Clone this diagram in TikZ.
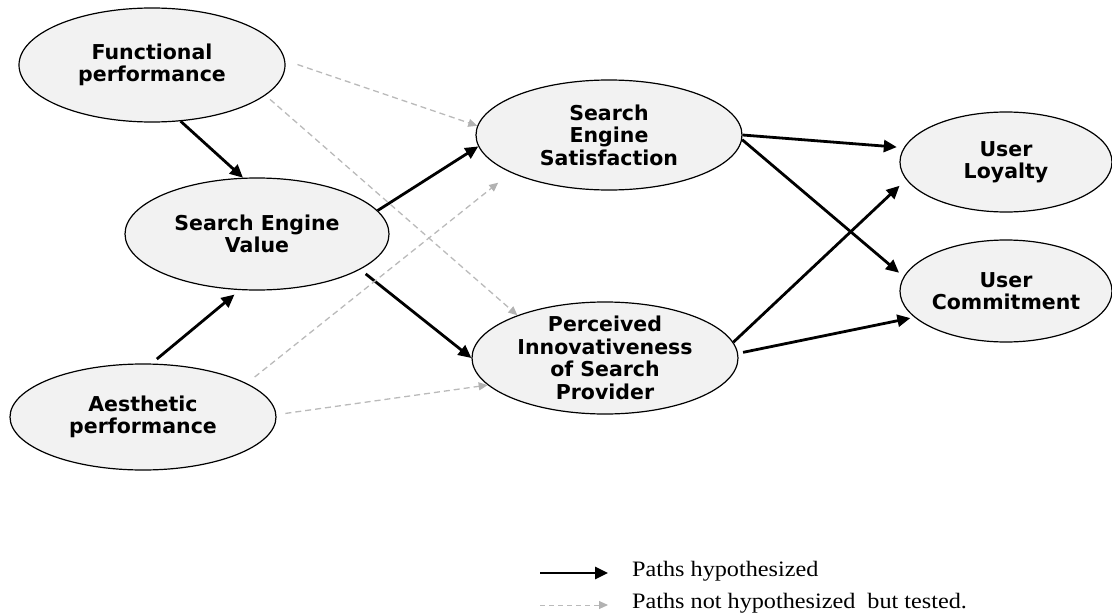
\documentclass[tikz,border=0pt]{standalone}
\usepackage{fontspec}
\usetikzlibrary{arrows.meta,shapes.geometric}
\newfontfamily\nodefont{DejaVu Sans Bold}
\newfontfamily\legfont[FakeStretch=1.1]{Liberation Serif}
\tikzset{
  ell/.style={ellipse, draw=black, line width=1.2pt, fill=black!5, inner sep=0pt},
  ntxt/.style={align=center, font=\nodefont\fontsize{20.5pt}{22.5pt}\selectfont},
  blk/.style={line width=2.8pt, draw=black, -{Triangle[length=13pt,width=12pt]}},
  gry/.style={line width=1.3pt, draw=black!27, dash pattern=on 6pt off 4pt, -{Triangle[length=9pt,width=8pt,color=black!30]}},
  legtxt/.style={anchor=west, inner sep=0pt, font=\legfont\fontsize{22pt}{24pt}\selectfont}
}
\begin{document}
\begin{tikzpicture}[x=1pt,y=-1pt]
\useasboundingbox (0,0) rectangle (1112,613);
\node[ell, minimum width=266pt, minimum height=114pt,
  label={[ntxt]center:Functional\\performance}] (fp) at (152,65) {};
\node[ell, minimum width=264pt, minimum height=112pt,
  label={[ntxt]center:Search Engine\\Value}] (sev) at (257,234) {};
\node[ell, minimum width=266pt, minimum height=106pt,
  label={[ntxt]center:Aesthetic\\performance}] (ap) at (143,417) {};
\node[ell, minimum width=266pt, minimum height=110pt,
  label={[ntxt]center:Search\\Engine\\Satisfaction}] (ses) at (609,135) {};
\node[ell, minimum width=266pt, minimum height=112pt,
  label={[ntxt]center:Perceived\\Innovativeness\\of Search\\Provider}] (pi) at (605,358) {};
\node[ell, minimum width=212pt, minimum height=100pt,
  label={[ntxt]center:User\\Loyalty}] (ul) at (1006,162) {};
\node[ell, minimum width=212pt, minimum height=102pt,
  label={[ntxt]center:User\\Commitment}] (uc) at (1006,291) {};

% hypothesized paths
\draw[blk] (fp.-63.4) -- (sev.104);
\draw[blk, shorten <=7pt, shorten >=7pt] (ap.81.5) -- (sev.-107.6);
\draw[blk] (sev.11.2) -- (ses.-175.3);
\draw[blk, shorten <=7pt] (sev.-19.1) -- (pi.180);
\draw[blk, shorten >=7pt] (ses.0.4) -- (ul.172.2);
\draw[blk, shorten >=6pt] (ses.-2.2) -- (uc.172.6);
\draw[blk, shorten >=9pt] (pi.7.1) -- (ul.-170.6);
\draw[blk, shorten <=5pt, shorten >=4pt] (pi.2.9) -- (uc.-164.3);

% tested but not hypothesized
\draw[gry, shorten <=13pt] (fp.2) -- (ses.176.2);
\draw[gry, shorten <=6pt] (fp.-15.2) -- (pi.154.5);
\draw[gry, shorten <=10pt, shorten >=16pt] (ap.18.3) -- (ses.-159.3);
\draw[gry, shorten <=9pt] (ap.1.6) -- (pi.-167);

% legend
\coordinate (l1a) at (540,573);
\coordinate (l1b) at (608,573);
\coordinate (l2a) at (540,605);
\coordinate (l2b) at (608,605);
\draw[blk] (l1a) -- (l1b);
\draw[gry, dash pattern=on 5pt off 4pt, line width=1pt] (l2a) -- (l2b);
\node[legtxt] (t1) at (632,571) {Paths hypothesized};
\node[legtxt] (t2) at (632,603) {Paths not hypothesized\ \ but tested.};
\end{tikzpicture}
\end{document}
